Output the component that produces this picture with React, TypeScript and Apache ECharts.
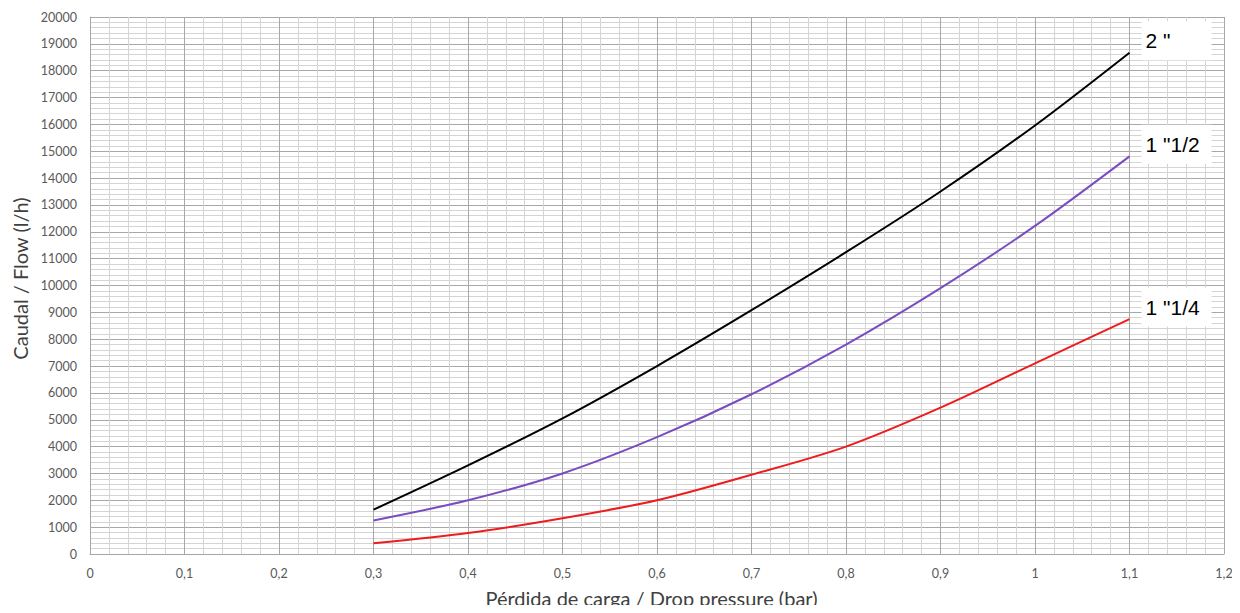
import React, { useEffect, useRef } from "react";
import * as echarts from "echarts";

const pressure = [0.3, 0.4, 0.5, 0.6, 0.7, 0.8, 0.9, 1.0, 1.1];
const flow2 = [1650, 3300, 5050, 7000, 9080, 11240, 13500, 15960, 18670];
const flow1_1_2 = [1250, 2000, 3000, 4350, 5950, 7800, 9900, 12220, 14810];
const flow1_1_4 = [400, 780, 1330, 2000, 2950, 4000, 5450, 7100, 8750];
const seriesNames = ['2 "', '1 "1/2', '1 "1/4'];
const seriesColors = ["#000000", "#7a4cc0", "#ee1c1c"];

const pairs = (ys: number[]) => pressure.map((x, i) => [x, ys[i]]);

export default function App() {
  const ref = useRef<HTMLDivElement>(null);
  useEffect(() => {
    if (!ref.current) return;
    const chart = echarts.init(ref.current, undefined, { renderer: "svg" });
    const font = "Lato, 'Open Sans', sans-serif";
    const allSeries = [flow2, flow1_1_2, flow1_1_4].map((ys, i) => ({
      type: "line",
      name: seriesNames[i],
      data: pairs(ys),
      smooth: 0.3,
      showSymbol: false,
      lineStyle: { color: seriesColors[i], width: 2 },
      itemStyle: { color: seriesColors[i] },
      endLabel: {
        show: true,
        formatter: seriesNames[i],
        offset: [4, -12],
        color: "#000",
        fontFamily: "'Liberation Sans', Arial, sans-serif",
        fontSize: 21,
        width: 64,
        backgroundColor: "#ffffff",
        padding: [9, 2, 9, 4],
      },
    }));
    chart.setOption({
      animation: false,
      backgroundColor: "#ffffff",
      grid: { left: 90, right: 16, top: 17, bottom: 59 },
      xAxis: {
        type: "value",
        min: 0,
        max: 1.2,
        interval: 0.1,
        name: "Pérdida de carga / Drop pressure (bar)",
        nameLocation: "middle",
        nameGap: 34,
        nameTextStyle: { fontFamily: font, fontSize: 20, color: "#404040", padding: [0, 11, 0, 0] },
        axisLine: { show: true, lineStyle: { color: "#a6a6a6" } },
        axisTick: { show: false },
        axisLabel: {
          fontFamily: font,
          fontSize: 12.5,
          color: "#595959",
          margin: 13,
          formatter: (v: number) => (Math.round(v * 10) / 10).toString().replace(".", ","),
        },
        splitLine: { show: true, lineStyle: { color: "#a8a8a8", width: 1 } },
        minorTick: { show: false, splitNumber: 5 },
        minorSplitLine: { show: true, lineStyle: { color: "#d4d4d4", width: 1 } },
      },
      yAxis: {
        type: "value",
        min: 0,
        max: 20000,
        interval: 1000,
        name: "Caudal / Flow (l/h)",
        nameLocation: "middle",
        nameGap: 59,
        nameRotate: 90,
        nameTextStyle: { fontFamily: font, fontSize: 20, color: "#404040", padding: [0, 0, 0, 14] },
        axisLine: { show: true, lineStyle: { color: "#a6a6a6" } },
        axisTick: { show: false },
        axisLabel: {
          fontFamily: font,
          fontSize: 12.5,
          color: "#595959",
          margin: 13,
          formatter: (v: number) => String(v),
        },
        splitLine: { show: true, lineStyle: { color: "#a8a8a8", width: 1 } },
        minorTick: { show: false, splitNumber: 5 },
        minorSplitLine: { show: true, lineStyle: { color: "#d4d4d4", width: 1 } },
      },
      series: allSeries,
    });
    return () => chart.dispose();
  }, []);
  return <div ref={ref} style={{ width: 1240, height: 613, margin: -8 }} />;
}
